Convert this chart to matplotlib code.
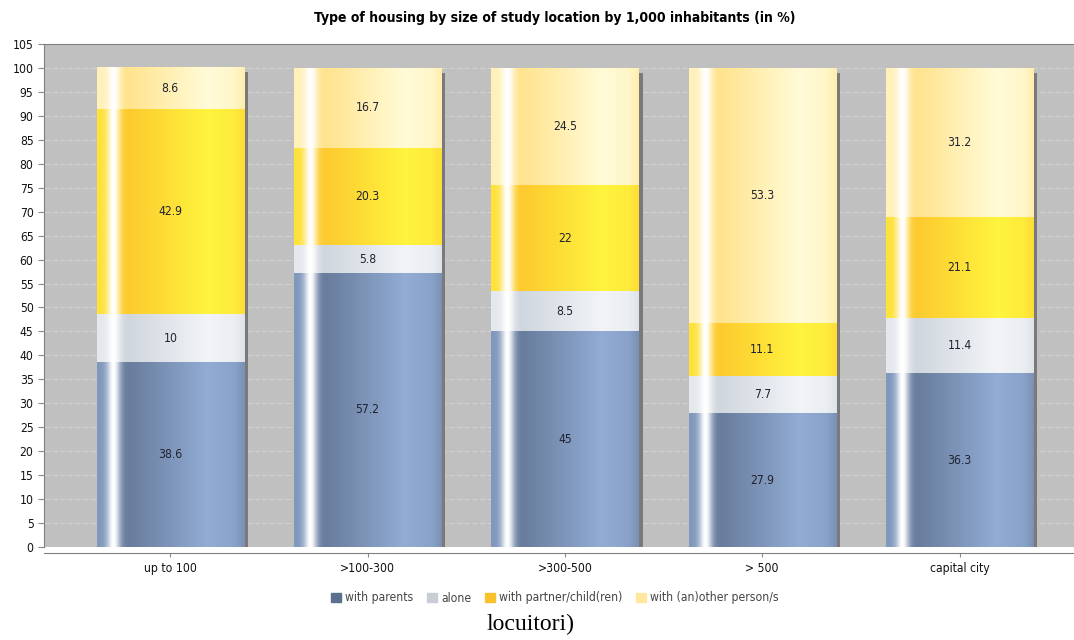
import numpy as np
import matplotlib.pyplot as plt
from matplotlib.colors import to_rgb

categories = ["up to 100", ">100-300", ">300-500", "> 500", "capital city"]
series = ["with parents", "alone", "with partner/child(ren)", "with (an)other person/s"]
with_parents = [38.6, 57.2, 45, 27.9, 36.3]
alone = [10, 5.8, 8.5, 7.7, 11.4]
with_partner = [42.9, 20.3, 22, 11.1, 21.1]
with_other = [8.6, 16.7, 24.5, 53.3, 31.2]
value_labels = [
    ["38.6", "57.2", "45", "27.9", "36.3"],
    ["10", "5.8", "8.5", "7.7", "11.4"],
    ["42.9", "20.3", "22", "11.1", "21.1"],
    ["8.6", "16.7", "24.5", "53.3", "31.2"],
]

# dark / light ends of the cylinder shading, and legend swatch colours
shades = [("#677b9b", "#92acd4"), ("#d0d6de", "#f2f4f7"),
          ("#fdc92e", "#fff43e"), ("#ffe38c", "#fffbd8")]
swatches = ["#5b6f8e", "#c9cdd5", "#f7c22e", "#ffe7a0"]

plt.rcParams["font.family"] = "DejaVu Sans"
plt.rcParams["font.stretch"] = "condensed"


def cylinder(dark, light, n=300):
    t = np.linspace(0, 1, n)
    dark, light = np.array(to_rgb(dark)), np.array(to_rgb(light))
    s = np.interp(t, [0, 0.05, 0.2, 0.75, 0.93, 1.0], [0.6, 0.55, 0.0, 1.0, 0.8, 0.45])
    col = dark[None, :] + (light - dark)[None, :] * s[:, None]
    glow = np.exp(-((t - 0.11) / 0.045) ** 2)
    col = col + (1 - col) * glow[:, None]
    return np.clip(col, 0, 1)[None, :, :]


fig = plt.figure(figsize=(10.74, 6.4), dpi=100)
ax = fig.add_axes([44 / 1074, 1 - 547 / 640, 1 - 44 / 1074, (547 - 44) / 640])
ax.set_facecolor("#c0c0c0")

x = np.arange(len(categories))
width = 0.745
data = [with_parents, alone, with_partner, with_other]
bottom = np.zeros(len(categories))
for k, vals in enumerate(data):
    bars = ax.bar(x, vals, width, bottom=bottom, color=swatches[k], zorder=2,
                  linewidth=0, label=series[k])
    grad = cylinder(*shades[k])
    for i, p in enumerate(bars.patches):
        x0, y0 = p.get_x(), p.get_y()
        im = ax.imshow(grad, extent=[x0, x0 + p.get_width(), y0, y0 + p.get_height()],
                       aspect="auto", interpolation="bilinear", zorder=3)
        im.set_clip_path(p)
        ax.text(x[i], y0 + p.get_height() / 2, value_labels[k][i], ha="center",
                va="center", fontsize=8.7, color="#1f2230", zorder=5)
    bottom += np.array(vals)

# drop shadow to the right of each column
ax.bar(x + width / 2 + 0.011, bottom - 1, 0.022, color="#7a7a7a", zorder=1, linewidth=0)

ax.set_xlim(-0.64, 4.58)
ax.set_ylim(0, 105)
ax.set_yticks(np.arange(0, 106, 5))
ax.set_xticks(x)
ax.set_xticklabels(categories)
ax.tick_params(axis="both", labelsize=8.7, colors="#888888", labelcolor="#111111", length=4)
ax.tick_params(axis="x", length=3)
ax.yaxis.grid(True, color="#d2d2d2", linestyle=(0, (5, 2)), linewidth=0.8, zorder=0)
ax.set_axisbelow(True)
ax.spines["right"].set_visible(False)
ax.spines["top"].set_color("#808080")
ax.spines["left"].set_color("#808080")
ax.spines["bottom"].set_color("#808080")
ax.spines["bottom"].set_position(("outward", 4))

fig.text(555 / 1074, 1 - 18 / 640,
         "Type of housing by size of study location by 1,000 inhabitants (in %)",
         ha="center", va="center", fontsize=10, fontweight="bold")

handles = [plt.Rectangle((0, 0), 1, 1, color=c) for c in swatches]
fig.legend(handles, series, loc="center", bbox_to_anchor=(555 / 1074, 1 - 598 / 640),
           ncol=4, frameon=False, fontsize=8.7, handlelength=0.8, handleheight=0.8,
           handletextpad=0.4, columnspacing=1.1, labelcolor="#444444")

fig.text(530 / 1074, 1 - 624 / 640, "locuitori)", ha="center", va="center",
         fontsize=17, family="Liberation Serif", fontstretch="normal")

fig.savefig("out.png", dpi=100)
